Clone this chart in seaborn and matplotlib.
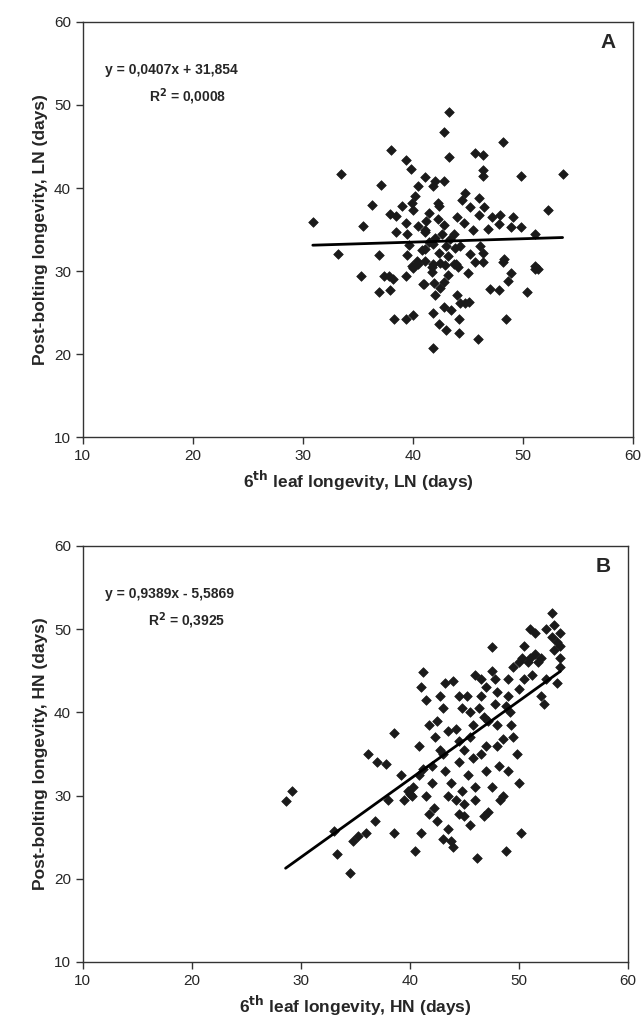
import matplotlib
matplotlib.use("Agg")
import matplotlib.pyplot as plt
import seaborn as sns
import numpy as np
import pandas as pd

sns.set_theme(style="white")
plt.rcParams["font.family"] = ["Liberation Sans", "DejaVu Sans"]

# Panel A: 6th leaf longevity vs post-bolting longevity, low nitrogen (LN)
leaf_ln = [38.0, 39.4, 39.8, 33.5, 41.1, 37.1, 40.5, 36.3, 30.9, 35.5, 33.2, 36.9,
           40.2, 39.9, 39.0, 40.0, 37.9, 38.5, 39.4, 40.5, 38.5, 39.5, 41.1, 39.6,
           39.5, 40.4, 39.9,
           43.3, 42.8, 48.2, 43.3, 45.6, 46.4, 46.4, 46.4, 49.8, 53.6, 42.0, 42.8,
           41.8, 44.7, 44.5, 46.0, 42.3, 42.4, 45.2, 46.5, 46.0, 47.2, 47.9, 49.1,
           52.3, 47.8, 48.9, 49.8, 44.6, 45.5, 46.8, 42.3, 42.6, 43.7, 51.1, 43.4,
           41.1, 41.1, 41.8, 42.4, 43.2, 44.3, 45.2, 46.4, 46.1, 48.3, 51.1, 41.8,
           43.9, 41.1,
           35.3, 37.4, 37.8, 38.2, 39.4, 40.0, 40.5, 36.9, 37.9, 40.9, 38.3, 39.4,
           40.0,
           41.7, 41.7, 42.9, 43.7, 44.1, 45.6, 46.4, 48.2, 51.1, 51.4, 48.9, 45.0,
           43.2, 41.0, 41.9, 42.8, 42.5, 42.0, 48.6, 47.0, 47.8, 50.4, 44.0, 44.3,
           45.1, 44.7, 42.8, 43.5, 41.8, 44.2, 48.5, 42.4, 43.0, 44.2, 45.9, 41.8,
           41.5, 42.0, 43.0, 42.5, 40.8, 43.8, 41.2, 42.8, 44.0, 41.5]
post_ln = [44.6, 43.4, 42.3, 41.7, 41.3, 40.4, 40.2, 37.9, 35.9, 35.4, 32.0, 31.9,
           39.0, 38.2, 37.8, 37.4, 36.9, 36.6, 35.8, 35.4, 34.7, 34.4, 34.7, 33.1,
           31.9, 31.2, 30.6,
           49.1, 46.8, 45.6, 43.7, 44.2, 44.0, 42.2, 41.5, 41.5, 41.7, 40.9, 40.9,
           40.2, 39.4, 38.6, 38.8, 38.2, 37.8, 37.7, 37.7, 36.7, 36.5, 36.7, 36.5,
           37.3, 35.7, 35.3, 35.3, 35.8, 35.0, 35.1, 36.3, 34.5, 34.5, 34.5, 33.9,
           35.0, 32.6, 33.2, 32.2, 31.8, 33.0, 32.0, 32.2, 33.0, 31.4, 30.6, 30.8,
           30.8, 31.2,
           29.4, 29.4, 29.4, 29.1, 29.4, 30.4, 30.9, 27.5, 27.7, 28.4, 24.2, 24.2,
           24.7,
           30.5, 29.9, 30.7, 30.9, 30.5, 31.1, 31.1, 31.1, 30.3, 30.2, 29.8, 29.8,
           29.5, 28.4, 28.6, 28.7, 27.9, 27.1, 28.8, 27.8, 27.7, 27.5, 27.1, 26.1,
           26.3, 26.2, 25.7, 25.3, 24.9, 24.2, 24.2, 23.6, 22.9, 22.5, 21.8, 20.7,
           33.5, 34.0, 33.0, 31.0, 32.5, 32.8, 36.0, 35.5, 36.5, 37.0]

# Panel B: high nitrogen (HN)
leaf_hn = [28.6, 29.2, 33.0, 33.3, 34.5, 34.8, 35.2, 36.0, 36.2, 37.0, 37.8, 36.8,
           38.0, 38.5, 38.5, 39.2, 39.8, 40.2, 40.5, 40.8, 41.0, 41.2, 41.5, 41.8,
           42.0, 42.0, 42.2, 42.5, 42.8, 43.0, 43.0, 43.2, 43.5, 43.5, 43.8, 44.0,
           44.0, 44.2, 44.5, 44.5, 44.8, 45.0, 45.0, 45.2, 45.5, 45.5, 45.8, 46.0,
           46.0, 46.2, 46.5, 46.5, 46.8, 47.0, 47.0, 47.2, 47.5, 47.5, 47.8, 48.0,
           48.0, 48.2, 48.5, 48.8, 49.0, 49.0, 49.2, 49.5, 49.8, 50.0, 50.0, 50.2,
           50.5, 50.5, 51.0, 51.0, 51.5, 51.8, 52.0, 52.3, 52.5, 53.0, 53.0, 53.2,
           53.5, 53.8, 53.8, 53.5, 53.8,
           39.5, 40.0, 40.3, 40.8, 41.2, 41.5, 41.8, 42.3, 42.5, 42.8, 43.2, 43.5,
           43.8, 44.2, 44.5, 44.8, 45.0, 45.3, 45.5, 45.8, 46.0, 46.3, 46.5, 46.8,
           47.0, 47.2, 47.5, 47.8, 48.0, 48.3, 48.5, 48.8, 49.0, 49.3, 49.5, 50.0,
           50.3, 50.8, 51.2, 51.5, 52.0, 52.5, 53.2, 53.8, 41.0, 43.0, 44.5]
post_hn = [29.3, 30.5, 25.8, 23.0, 20.7, 24.5, 25.2, 25.5, 35.0, 34.0, 33.8, 27.0,
           29.5, 37.5, 25.5, 32.5, 30.5, 30.0, 23.3, 36.0, 43.0, 44.8, 41.5, 38.5,
           33.5, 31.5, 28.5, 27.0, 42.0, 40.5, 35.0, 33.0, 30.0, 26.0, 24.5, 23.8,
           43.8, 38.0, 36.5, 34.0, 30.5, 29.0, 27.5, 42.0, 40.0, 37.0, 34.5, 31.0,
           29.5, 22.5, 44.0, 42.0, 39.5, 36.0, 33.0, 28.0, 47.8, 45.0, 41.0, 38.5,
           36.0, 33.5, 30.0, 23.3, 44.0, 42.0, 40.0, 37.0, 35.0, 46.0, 31.5, 25.5,
           48.0, 44.0, 50.0, 46.5, 49.5, 46.0, 42.0, 41.0, 44.0, 52.0, 49.0, 47.5,
           48.5, 46.5, 45.5, 43.5, 49.5,
           29.5, 30.2, 31.0, 32.5, 33.2, 30.0, 27.8, 37.0, 39.0, 35.5, 43.5, 37.8,
           31.5, 29.5, 42.0, 40.5, 35.5, 32.5, 26.5, 38.5, 44.5, 40.5, 35.0, 27.5,
           43.0, 39.0, 31.0, 44.0, 42.5, 29.5, 36.8, 40.8, 33.0, 38.5, 45.5, 42.8,
           46.5, 46.0, 44.5, 47.0, 46.5, 50.0, 50.5, 48.0, 25.5, 24.8, 27.8]

fit_ln = [0.0407, 31.854]
fit_hn = [0.9389, -5.5869]

fig = plt.figure(figsize=(6.42, 10.26), dpi=100)
ax_a = fig.add_axes([0.129, 0.574, 0.857, 0.4046])
ax_b = fig.add_axes([0.129, 0.0624, 0.849, 0.4055])


def draw_panel(ax, xs, ys, fit, tag, eq, r2, xlab, ylab):
    df = pd.DataFrame({"x": xs, "y": ys})
    sns.scatterplot(data=df, x="x", y="y", ax=ax, marker="D", s=24,
                    color="#1a1a1a", edgecolor="#1a1a1a", linewidth=0.5, zorder=3)
    xr = np.array([min(xs), max(xs)])
    line = pd.DataFrame({"x": xr, "y": fit[0] * xr + fit[1]})
    sns.lineplot(data=line, x="x", y="y", ax=ax, color="black", lw=2, zorder=4)
    ax.set_xlim(10, 60)
    ax.set_ylim(10, 60)
    ax.set_xticks(range(10, 61, 10))
    ax.set_yticks(range(10, 61, 10))
    for s in ax.spines.values():
        s.set_color("#333333")
        s.set_linewidth(1.0)
    ax.tick_params(axis="both", direction="out", length=5, width=1,
                   color="#333333", labelsize=11, bottom=True, left=True)
    ax.set_xlabel(xlab, fontsize=12.5, fontweight="bold", labelpad=4)
    ax.set_ylabel(ylab, fontsize=12.5, fontweight="bold", labelpad=4)
    ax.text(0.955, 0.95, tag, transform=ax.transAxes, fontsize=15,
            fontweight="bold", ha="center", va="center")
    ax.text(0.04, 0.885, eq, transform=ax.transAxes, fontsize=10,
            fontweight="bold", ha="left", va="center")
    ax.text(0.12, 0.82, r2, transform=ax.transAxes, fontsize=10,
            fontweight="bold", ha="left", va="center")


draw_panel(ax_a, leaf_ln, post_ln, fit_ln, "A",
           "y = 0,0407x + 31,854", r"R$^{\mathbf{2}}$ = 0,0008",
           r"6$^{\mathbf{th}}$ leaf longevity, LN (days)",
           "Post-bolting longevity, LN (days)")
draw_panel(ax_b, leaf_hn, post_hn, fit_hn, "B",
           "y = 0,9389x - 5,5869", r"R$^{\mathbf{2}}$ = 0,3925",
           r"6$^{\mathbf{th}}$ leaf longevity, HN (days)",
           "Post-bolting longevity, HN (days)")

fig.savefig("out.png", dpi=100)
